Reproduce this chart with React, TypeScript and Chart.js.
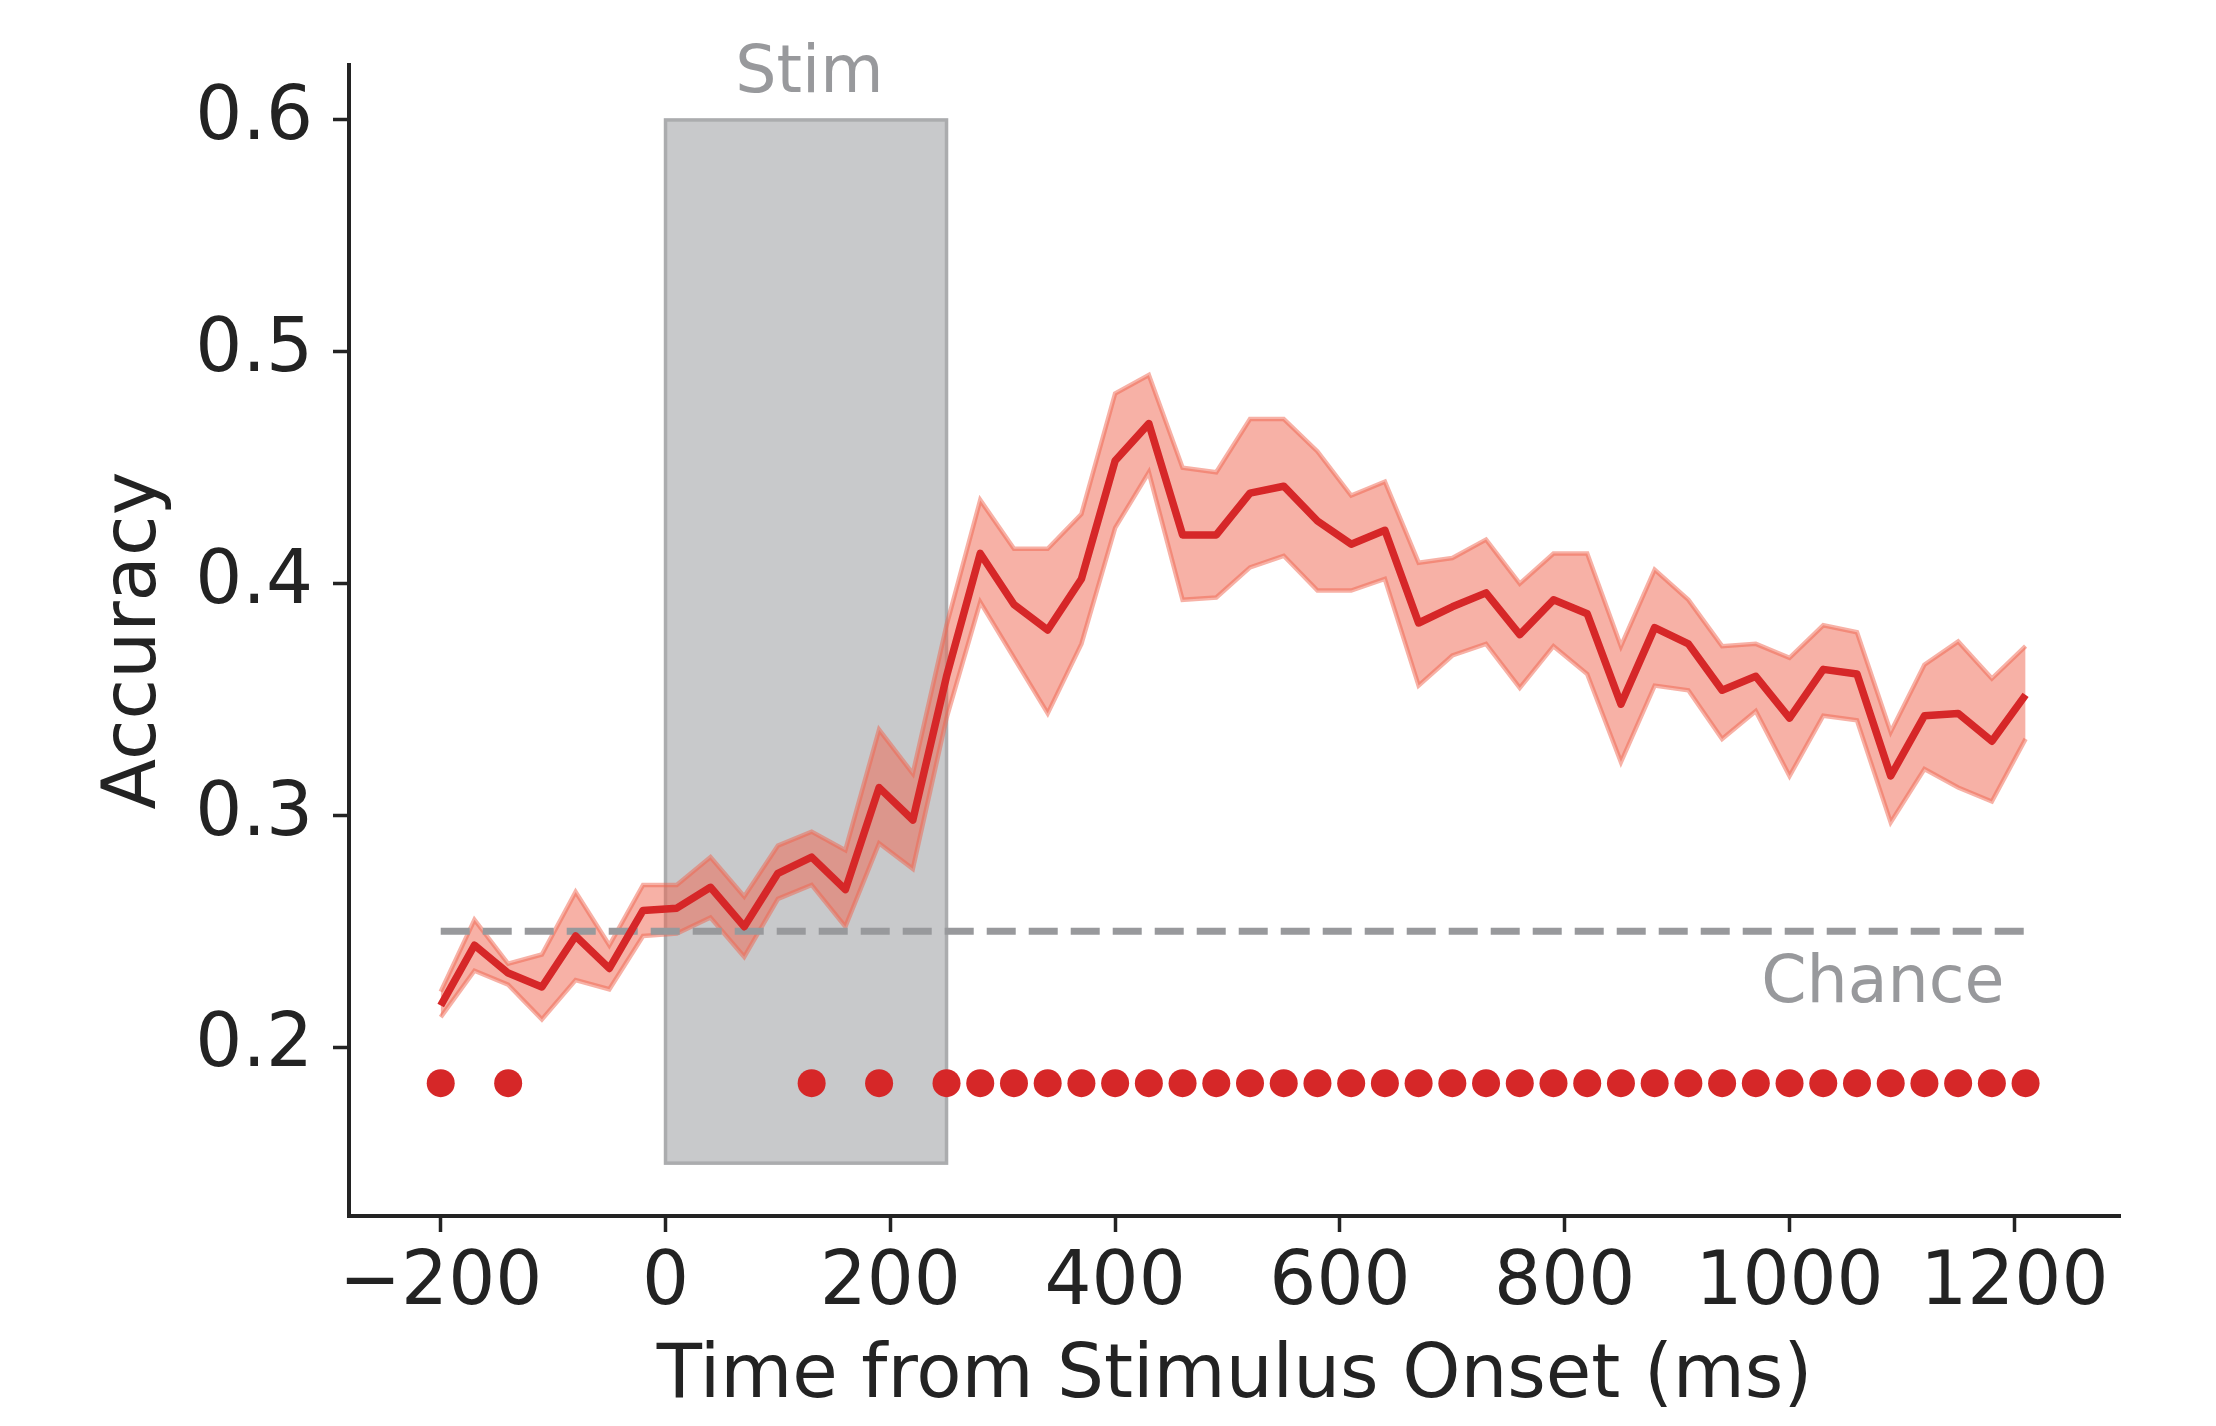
import React, { useEffect, useRef } from "react";
import { Chart, registerables } from "chart.js";

Chart.register(...registerables);

const TIMES = [-200, -170, -140, -110, -80, -50, -20, 10, 40, 70, 100, 130, 160, 190, 220, 250, 280, 310, 340, 370, 400, 430, 460, 490, 520, 550, 580, 610, 640, 670, 700, 730, 760, 790, 820, 850, 880, 910, 940, 970, 1000, 1030, 1060, 1090, 1120, 1150, 1180, 1210];
const MEAN = [0.218, 0.244, 0.232, 0.226, 0.248, 0.234, 0.259, 0.260, 0.269, 0.252, 0.275, 0.282, 0.268, 0.312, 0.298, 0.360, 0.413, 0.391, 0.380, 0.402, 0.453, 0.469, 0.421, 0.421, 0.439, 0.442, 0.427, 0.417, 0.423, 0.383, 0.390, 0.396, 0.378, 0.393, 0.387, 0.348, 0.381, 0.374, 0.354, 0.360, 0.342, 0.363, 0.361, 0.317, 0.343, 0.344, 0.332, 0.352];
const UPPER = [0.224, 0.255, 0.236, 0.240, 0.267, 0.244, 0.270, 0.270, 0.282, 0.265, 0.287, 0.293, 0.285, 0.337, 0.318, 0.382, 0.436, 0.415, 0.415, 0.430, 0.482, 0.490, 0.450, 0.448, 0.471, 0.471, 0.457, 0.438, 0.444, 0.409, 0.411, 0.419, 0.400, 0.413, 0.413, 0.373, 0.406, 0.393, 0.373, 0.374, 0.368, 0.382, 0.379, 0.336, 0.365, 0.375, 0.359, 0.373];
const LOWER = [0.213, 0.233, 0.227, 0.212, 0.229, 0.225, 0.248, 0.249, 0.256, 0.239, 0.264, 0.270, 0.252, 0.288, 0.277, 0.342, 0.392, 0.368, 0.344, 0.374, 0.424, 0.448, 0.393, 0.394, 0.407, 0.412, 0.397, 0.397, 0.402, 0.356, 0.369, 0.374, 0.355, 0.373, 0.361, 0.323, 0.356, 0.354, 0.333, 0.345, 0.317, 0.343, 0.341, 0.297, 0.320, 0.312, 0.306, 0.333];

const SIG_TIMES = [-200, -140, 130, 190, 250, 280, 310, 340, 370, 400, 430, 460, 490, 520, 550, 580, 610, 640, 670, 700, 730, 760, 790, 820, 850, 880, 910, 940, 970, 1000, 1030, 1060, 1090, 1120, 1150, 1180, 1210];
const SIG_LEVEL = 0.1845;

const CHANCE = 0.25;
const CHANCE_SPAN = [-200, 1210];
const CHANCE_LABEL = "Chance";
const CHANCE_LABEL_POS = [1083, 0.2197];

const STIM_SPAN = [0, 250];
const STIM_Y = [0.15, 0.6];
const STIM_LABEL = "Stim";
const STIM_LABEL_POS = [128, 0.612];

const X_TICKS = [-200, 0, 200, 400, 600, 800, 1000, 1200];
const Y_TICKS = [0.2, 0.3, 0.4, 0.5, 0.6];
const X_RANGE = [-281.6, 1294];
const Y_RANGE = [0.1272, 0.6237];

const X_TITLE = "Time from Stimulus Onset (ms)";
const Y_TITLE = "Accuracy";

const FONT = "'DejaVu Sans', sans-serif";
const INK = "#232323";
const GRAY_TEXT = "#98999c";

const zip = (xs: number[], ys: number[]) => xs.map((x, i) => ({ x, y: ys[i] }));

const annotPlugin = {
  id: "annot",
  beforeDatasetsDraw(chart: any) {
    const { ctx, scales } = chart;
    const x = scales.x, y = scales.y;
    const x0 = x.getPixelForValue(STIM_SPAN[0]);
    const x1 = x.getPixelForValue(STIM_SPAN[1]);
    const y0 = y.getPixelForValue(STIM_Y[1]);
    const y1 = y.getPixelForValue(STIM_Y[0]);
    ctx.save();
    ctx.fillStyle = "#c8c9cb";
    ctx.fillRect(x0, y0, x1 - x0, y1 - y0);
    ctx.strokeStyle = "#abacae";
    ctx.lineWidth = 3.5;
    ctx.strokeRect(x0, y0, x1 - x0, y1 - y0);
    ctx.restore();
  },
  afterDraw(chart: any) {
    const { ctx, scales } = chart;
    const x = scales.x, y = scales.y;
    ctx.save();
    ctx.fillStyle = GRAY_TEXT;
    ctx.font = `65px ${FONT}`;
    ctx.textAlign = "center";
    ctx.textBaseline = "alphabetic";
    ctx.fillText(STIM_LABEL, x.getPixelForValue(STIM_LABEL_POS[0]), y.getPixelForValue(STIM_LABEL_POS[1]));
    ctx.fillText(CHANCE_LABEL, x.getPixelForValue(CHANCE_LABEL_POS[0]), y.getPixelForValue(CHANCE_LABEL_POS[1]));
    ctx.restore();
  },
};

export default function App() {
  const ref = useRef<HTMLCanvasElement>(null);
  useEffect(() => {
    document.body.style.margin = "0";
    document.documentElement.style.overflow = "hidden";
    const canvas = ref.current!;
    const band = "rgba(239,99,77,0.5)";
    const chart = new Chart(canvas, {
      type: "line",
      data: {
        datasets: [
          {
            label: "sig",
            data: SIG_TIMES.map((t) => ({ x: t, y: SIG_LEVEL })),
            showLine: false,
            pointRadius: 14,
            pointBackgroundColor: "#d62728",
            pointBorderWidth: 0,
            borderColor: "#d62728",
          },
          {
            label: "mean",
            data: zip(TIMES, MEAN),
            borderColor: "#d62728",
            borderWidth: 7.5,
            pointRadius: 0,
            fill: false,
            borderJoinStyle: "round",
          },
          {
            label: "chance",
            data: CHANCE_SPAN.map((t) => ({ x: t, y: CHANCE })),
            borderColor: "#98999c",
            borderWidth: 7,
            borderDash: [29, 13],
            pointRadius: 0,
            fill: false,
          },
          {
            label: "upper",
            data: zip(TIMES, UPPER),
            borderColor: band,
            borderWidth: 4.5,
            backgroundColor: band,
            pointRadius: 0,
            fill: "+1",
          },
          {
            label: "lower",
            data: zip(TIMES, LOWER),
            borderColor: band,
            borderWidth: 4.5,
            pointRadius: 0,
            fill: false,
          },
        ],
      },
      options: {
        animation: false,
        responsive: false,
        devicePixelRatio: 1,
        layout: { padding: { top: 65, right: 96, left: 0, bottom: 0 } },
        plugins: {
          legend: { display: false },
          tooltip: { enabled: false },
          title: { display: false },
        },
        scales: {
          x: {
            type: "linear",
            min: X_RANGE[0],
            max: X_RANGE[1],
            afterFit: (s: any) => { s.height = 210; },
            afterBuildTicks: (s: any) => { s.ticks = X_TICKS.map((v) => ({ value: v })); },
            ticks: {
              autoSkip: false,
              maxRotation: 0,
              padding: 8,
              color: INK,
              font: { family: FONT, size: 74, lineHeight: 1.2 },
              callback: (v: any) => (Number(v) < 0 ? "\u2212" + Math.abs(Number(v)) : String(v)),
            },
            grid: {
              display: true,
              drawOnChartArea: false,
              drawTicks: true,
              tickLength: 16,
              tickWidth: 3.5,
              tickColor: INK,
            },
            border: { display: true, color: INK, width: 4 },
            title: {
              display: true,
              text: X_TITLE,
              color: INK,
              font: { family: FONT, size: 74, lineHeight: 1.2 },
              padding: { top: 0, bottom: 4 },
            },
          },
          y: {
            type: "linear",
            min: Y_RANGE[0],
            max: Y_RANGE[1],
            afterFit: (s: any) => { s.width = 349; },
            afterBuildTicks: (s: any) => { s.ticks = Y_TICKS.map((v) => ({ value: v })); },
            ticks: {
              padding: 20,
              color: INK,
              font: { family: FONT, size: 74, lineHeight: 1.2 },
              callback: (v: any) => Number(v).toFixed(1),
            },
            grid: {
              display: true,
              drawOnChartArea: false,
              drawTicks: true,
              tickLength: 16,
              tickWidth: 3.5,
              tickColor: INK,
            },
            border: { display: true, color: INK, width: 4 },
            title: {
              display: true,
              text: Y_TITLE,
              color: INK,
              font: { family: FONT, size: 74, lineHeight: 1.2 },
              padding: { top: 91, bottom: 0 },
            },
          },
        },
      },
      plugins: [annotPlugin],
    } as any);
    return () => chart.destroy();
  }, []);
  return (
    <div style={{ width: 2216, height: 1426 }}>
      <canvas ref={ref} width={2216} height={1426} style={{ display: "block" }} />
    </div>
  );
}
